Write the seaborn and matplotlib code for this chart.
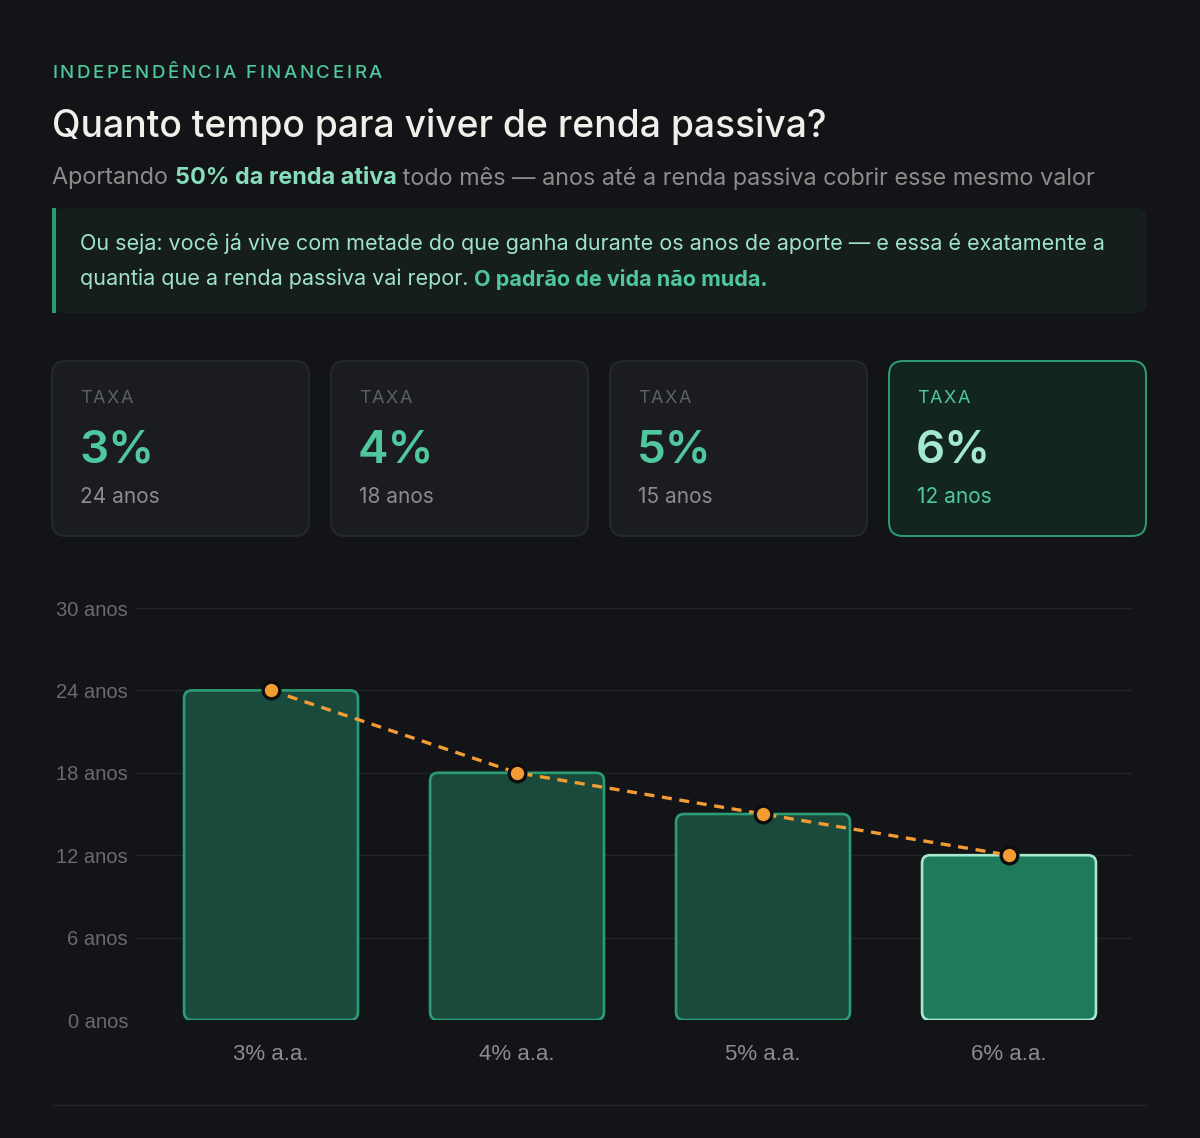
import matplotlib
matplotlib.use("Agg")
import matplotlib.pyplot as plt
import seaborn as sns
import pandas as pd
from matplotlib.patches import FancyBboxPatch, Rectangle

# ---------------- data ----------------
rates = ["3%", "4%", "5%", "6%"]
rate_labels = ["3% a.a.", "4% a.a.", "5% a.a.", "6% a.a."]
years = [24, 18, 15, 12]
year_labels = ["24 anos", "18 anos", "15 anos", "12 anos"]
y_ticks = [0, 6, 12, 18, 24, 30]
y_tick_labels = ["0 anos", "6 anos", "12 anos", "18 anos", "24 anos", "30 anos"]
highlight_index = 3

# ---------------- style ----------------
BG = "#131417"
CARD_BG = "#1a1c22"
CARD_EDGE = "#25282e"
HI_BG = "#13251f"
HI_EDGE = "#2e9e77"
GREEN = "#4fc89d"
MINT = "#9fe3c8"
GREY = "#8c8c8c"
DIM = "#5d6066"
ORANGE = "#f29c33"
FONT = ["Inter", "DejaVu Sans"]
CHART_FONT = ["Liberation Sans", "DejaVu Sans"]

sns.set_theme(style="dark")
plt.rcParams["font.family"] = FONT

W, H = 1200, 1138
fig = plt.figure(figsize=(W / 100, H / 100), dpi=100, facecolor=BG)

# overlay axes in pixel units
ov = fig.add_axes([0, 0, 1, 1], zorder=0)
ov.set_xlim(0, W)
ov.set_ylim(H, 0)
ov.axis("off")
ov.set_facecolor(BG)

renderer = fig.canvas.get_renderer()


def text_width(t):
    bb = t.get_window_extent(renderer=renderer)
    return bb.width


def rich(x, y, segments, **kw):
    cx = x
    for s, props in segments:
        p = dict(kw)
        p.update(props)
        t = ov.text(cx, y, s, va="center", ha="left", **p)
        cx += text_width(t)
    return cx


def spaced(x, y, s, spacing, **kw):
    cx = x
    for ch in s:
        t = ov.text(cx, y, ch, va="center", ha="left", **kw)
        w = text_width(t) if ch != " " else kw.get("fontsize", 12) * 100 / 72 * 0.28
        cx += w + spacing
    return cx


# ---------------- header ----------------
spaced(52, 73, "INDEPENDÊNCIA FINANCEIRA", 2.6, fontsize=13.5, color=GREEN, fontweight="medium")
ov.text(52, 126, "Quanto tempo para viver de renda passiva?", va="center", ha="left",
        fontsize=26.8, color="#f1efea", fontweight="medium")
rich(52, 178, [("Aportando ", {"color": GREY}),
               ("50% da renda ativa", {"color": "#86dcbb", "fontweight": "bold"}),
               (" todo mês — anos até a renda passiva cobrir esse mesmo valor", {"color": GREY})],
     fontsize=16.85)

# callout box
ov.add_patch(FancyBboxPatch((52, 208), 1095, 105, boxstyle="round,pad=0,rounding_size=12",
                            facecolor="#151d1d", edgecolor="none"))
ov.add_patch(Rectangle((52, 208), 4, 105, facecolor="#2a9a70", edgecolor="none"))
ov.text(80, 243, "Ou seja: você já vive com metade do que ganha durante os anos de aporte — e essa é exatamente a",
        va="center", ha="left", fontsize=15.5, color=MINT)
rich(80, 279, [("quantia que a renda passiva vai repor. ", {"color": MINT}),
               ("O padrão de vida não muda.", {"color": GREEN, "fontweight": "bold"})],
     fontsize=15.5)

# cards
card_x0, card_w, card_gap = 52, 257, 22
for i, (r, yl) in enumerate(zip(rates, year_labels)):
    x0 = card_x0 + i * (card_w + card_gap)
    hi = i == highlight_index
    ov.add_patch(FancyBboxPatch((x0, 361), card_w, 175, boxstyle="round,pad=0,rounding_size=14",
                                facecolor=HI_BG if hi else CARD_BG,
                                edgecolor=HI_EDGE if hi else CARD_EDGE, linewidth=1.4))
    spaced(x0 + 28, 398, "TAXA", 1.4, fontsize=13, color=GREEN if hi else DIM)
    ov.text(x0 + 27, 450, r, va="center", ha="left", fontsize=33, fontweight="semibold",
            color="#a3e8cf" if hi else GREEN)
    ov.text(x0 + 28, 497, yl, va="center", ha="left", fontsize=15,
            color=GREEN if hi else GREY)

# bottom separator
ov.plot([52, 1147], [1105, 1105], color="#24262b", linewidth=1)

# ---------------- chart ----------------
left, right = 135 / W, 1132 / W
bottom, top = 1 - 1020 / H, 1 - 608 / H
ax = fig.add_axes([left, bottom, right - left, top - bottom], zorder=2)
ax.set_facecolor("none")

df = pd.DataFrame({"rate": rate_labels, "years": years})
sns.barplot(data=df, x="rate", y="years", ax=ax, width=0.707, color="#1a4a3c",
            saturation=1, zorder=3)

ax.set_xlim(-0.553, 3.5)
ax.set_ylim(0, 30)

# replace bars with rounded boxes
px_x = (right - left) * W / (3.5 + 0.553)
px_y = (top - bottom) * H / 30
rad_x = 8 / px_x
aspect = (8 / px_y) / rad_x
bars = list(ax.patches)
for i, b in enumerate(bars):
    hi = i == highlight_index
    bx, by, bw, bh = b.get_x(), b.get_y(), b.get_width(), b.get_height()
    b.remove()
    ax.add_patch(FancyBboxPatch((bx, by), bw, bh,
                                boxstyle=f"round,pad=0,rounding_size={rad_x}",
                                mutation_aspect=aspect,
                                facecolor="#1f7a5b" if hi else "#1a4a3c",
                                edgecolor="#a6e9cf" if hi else "#2b9d74",
                                linewidth=1.9, zorder=3))

sns.lineplot(x=list(range(len(years))), y=years, ax=ax, color=ORANGE, linewidth=2.4,
             dashes=False, zorder=4)
ax.lines[-1].set_dashes((3.0, 2.3))
ax.plot(range(len(years)), years, linestyle="none", marker="o", markersize=12,
        markerfacecolor=ORANGE, markeredgecolor="#0d0d0f", markeredgewidth=2.4,
        zorder=5, clip_on=False)

ax.set_yticks(y_ticks)
ax.set_yticklabels(y_tick_labels)
ax.set_xticks(range(len(rate_labels)))
ax.set_xticklabels(rate_labels)
ax.set_xlabel("")
ax.set_ylabel("")
ax.grid(axis="y", color="#222429", linewidth=1, zorder=0)
ax.grid(axis="x", visible=False)
ax.set_axisbelow(True)
for s in ax.spines.values():
    s.set_visible(False)
ax.tick_params(axis="y", length=0, pad=5, labelsize=14.5, labelcolor="#6a6b6e")
ax.tick_params(axis="x", length=0, pad=17, labelsize=16, labelcolor=GREY)
for t in ax.get_yticklabels() + ax.get_xticklabels():
    t.set_fontfamily(CHART_FONT)

fig.savefig("out.png", dpi=100, facecolor=BG)
